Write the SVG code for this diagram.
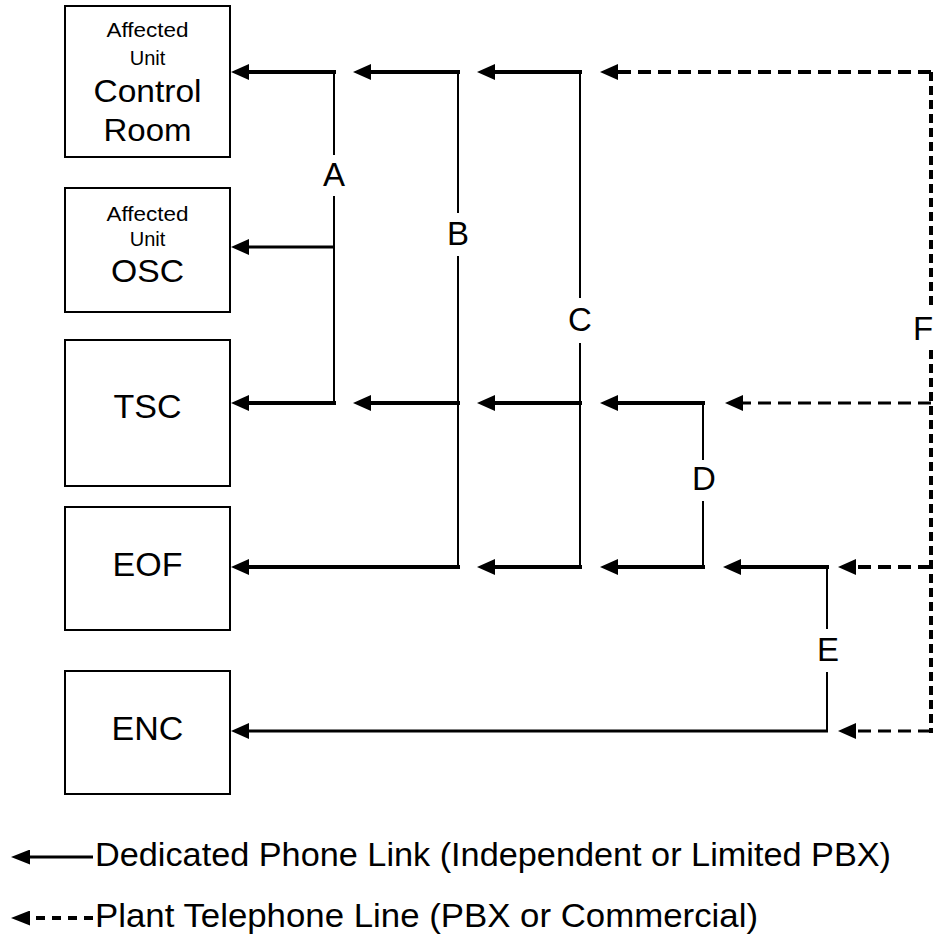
<svg xmlns="http://www.w3.org/2000/svg" width="935" height="938" viewBox="0 0 935 938">
<style>
  .box { fill: #fff; stroke: #000; stroke-width: 2; }
  .t { font-family: "Liberation Sans", Arial, sans-serif; fill: #000; text-anchor: middle; }
  .sm { font-size: 20px; }
  .md { font-size: 31px; }
  .lg { font-size: 34px; }
  .lbl { font-family: "Liberation Sans", Arial, sans-serif; font-size: 33px; fill: #000; text-anchor: middle; }
  .leg { font-family: "Liberation Sans", Arial, sans-serif; font-size: 34px; fill: #000; }
  .thick { fill: none; stroke: #000; stroke-width: 4; }
  .mid { fill: none; stroke: #000; stroke-width: 3; }
  .thin { fill: none; stroke: #000; stroke-width: 2; }
  .dash { fill: none; stroke: #000; stroke-width: 4; stroke-dasharray: 13 7; }
  .dashT { fill: none; stroke: #000; stroke-width: 3; stroke-dasharray: 13 7; }
  .dashV { fill: none; stroke: #000; stroke-width: 4; stroke-dasharray: 9 5; }
  .head { fill: #000; stroke: none; }
</style>
<defs>
  <marker id="ah" markerUnits="userSpaceOnUse" markerWidth="18" markerHeight="16" viewBox="0 0 18 16" refX="6" refY="8" orient="auto">
    <path class="head" d="M0,0 L18,8 L0,16 Z"/>
  </marker>
  <marker id="ahl" markerUnits="userSpaceOnUse" markerWidth="19" markerHeight="15" viewBox="0 0 19 15" refX="7" refY="7.5" orient="auto">
    <path class="head" d="M0,0 L19,7.5 L0,15 Z"/>
  </marker>
</defs>

<g id="node-control-room">
  <rect class="box" x="65" y="6" width="165" height="151"/>
  <text class="t sm" x="147.5" y="37" textLength="82" lengthAdjust="spacingAndGlyphs">Affected</text>
  <text class="t sm" x="147.5" y="65">Unit</text>
  <text class="t md" x="147.5" y="102" textLength="108" lengthAdjust="spacingAndGlyphs">Control</text>
  <text class="t md" x="147.5" y="141" textLength="88" lengthAdjust="spacingAndGlyphs">Room</text>
</g>
<g id="node-osc">
  <rect class="box" x="65" y="188" width="165" height="124"/>
  <text class="t sm" x="147.5" y="221" textLength="82" lengthAdjust="spacingAndGlyphs">Affected</text>
  <text class="t sm" x="147.5" y="246">Unit</text>
  <text class="t md" x="147.5" y="282" textLength="73" lengthAdjust="spacingAndGlyphs">OSC</text>
</g>
<g id="node-tsc">
  <rect class="box" x="65" y="340" width="165" height="146"/>
  <text class="t lg" x="147.5" y="418">TSC</text>
</g>
<g id="node-eof">
  <rect class="box" x="65" y="507" width="165" height="123"/>
  <text class="t lg" x="147.5" y="576">EOF</text>
</g>
<g id="node-enc">
  <rect class="box" x="65" y="671" width="165" height="123"/>
  <text class="t lg" x="147.5" y="740">ENC</text>
</g>

<g id="connectors">
  <!-- A -->
  <path class="thin" d="M334,71 V155 M334,196 V404"/>
  <path class="thick" d="M336,72 H243" marker-end="url(#ah)"/>
  <path class="mid" d="M334,247 H243" marker-end="url(#ah)"/>
  <path class="thick" d="M336,403 H243" marker-end="url(#ah)"/>
  <!-- B -->
  <path class="thin" d="M458,71 V213 M458,256 V568"/>
  <path class="thick" d="M460,72 H365" marker-end="url(#ah)"/>
  <path class="thick" d="M460,403 H365" marker-end="url(#ah)"/>
  <path class="thick" d="M460,567 H243" marker-end="url(#ah)"/>
  <!-- C -->
  <path class="thin" d="M580,71 V298 M580,343 V568"/>
  <path class="thick" d="M582,72 H489" marker-end="url(#ah)"/>
  <path class="thick" d="M582,403 H489" marker-end="url(#ah)"/>
  <path class="thick" d="M582,567 H489" marker-end="url(#ah)"/>
  <!-- D -->
  <path class="thin" d="M703,402 V460 M703,501 V568"/>
  <path class="thick" d="M705,403 H612" marker-end="url(#ah)"/>
  <path class="thick" d="M705,567 H612" marker-end="url(#ah)"/>
  <!-- E -->
  <path class="thin" d="M827,566 V629 M827,672 V732"/>
  <path class="thick" d="M829,567 H735" marker-end="url(#ah)"/>
  <path class="mid" d="M828,731 H243" marker-end="url(#ah)"/>
  <!-- F -->
  <path class="dashV" d="M931,72 V307 M931,350 V733"/>
  <path class="dash" d="M931,72 H612" marker-end="url(#ah)"/>
  <path class="dashT" d="M931,403 H737" marker-end="url(#ah)"/>
  <path class="dash" d="M931,567 H850" marker-end="url(#ah)"/>
  <path class="dashT" d="M931,731 H850" marker-end="url(#ah)"/>
</g>

<g id="labels">
  <text class="lbl" x="334" y="186">A</text>
  <text class="lbl" x="458" y="245">B</text>
  <text class="lbl" x="580" y="331">C</text>
  <text class="lbl" x="704" y="490">D</text>
  <text class="lbl" x="828" y="661">E</text>
  <text class="lbl" x="913" y="340" style="text-anchor:start">F</text>
</g>

<g id="legend">
  <path class="mid" d="M93,857 H23" marker-end="url(#ahl)"/>
  <text class="leg" x="95" y="866" textLength="796" lengthAdjust="spacingAndGlyphs">Dedicated Phone Link (Independent or Limited PBX)</text>
  <path class="dash" d="M93,918 H23" style="stroke-dasharray:9 7" marker-end="url(#ahl)"/>
  <text class="leg" x="95" y="927" textLength="663" lengthAdjust="spacingAndGlyphs">Plant Telephone Line (PBX or Commercial)</text>
</g>
</svg>
